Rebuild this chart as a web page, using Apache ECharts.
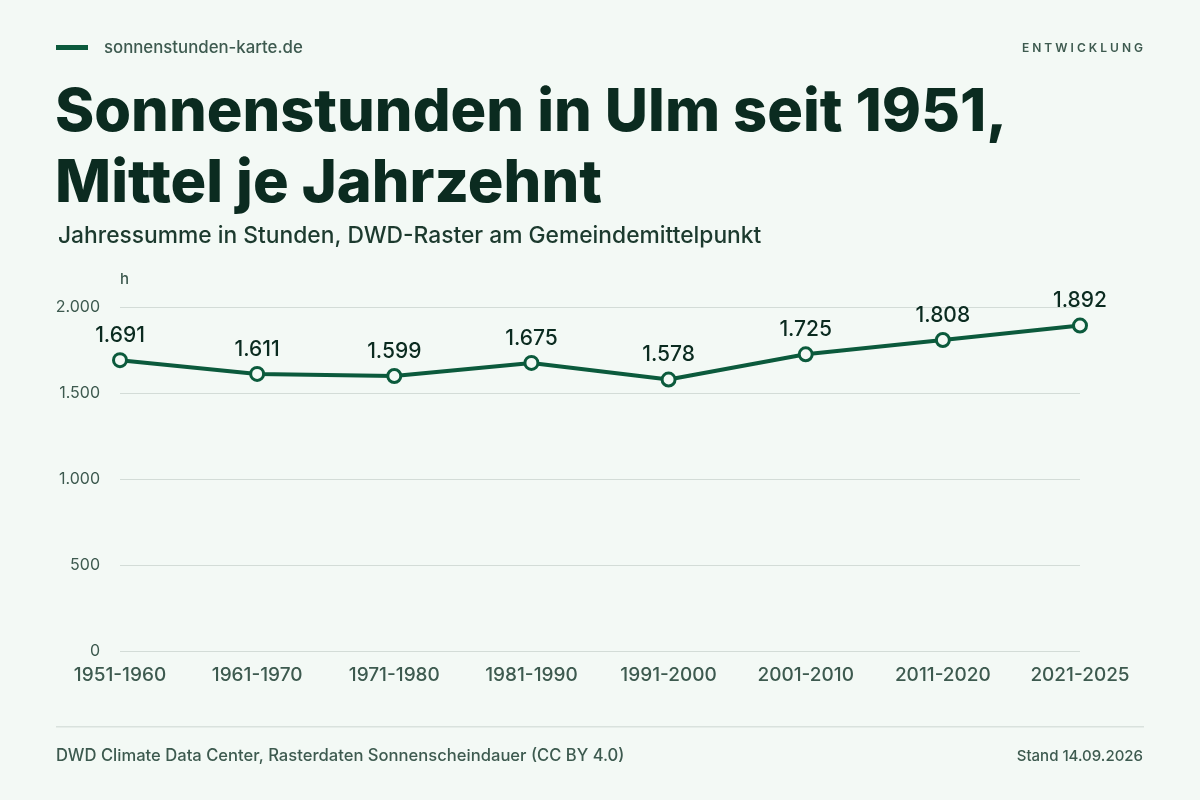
<!DOCTYPE html>
<html><head><meta charset="utf-8">
<script src="https://cdn.jsdelivr.net/npm/echarts@6/dist/echarts.min.js"></script>
<style>html,body{margin:0;padding:0;background:#f3f9f5;}#c{width:1200px;height:800px;}</style>
</head><body><div id="c"></div>
<script>
const categories = ['1951-1960','1961-1970','1971-1980','1981-1990','1991-2000','2001-2010','2011-2020','2021-2025'];
const sunHours = [1691,1611,1599,1675,1578,1725,1808,1892];
const yTicks = [0,500,1000,1500,2000];

const fmt = v => String(v).replace(/\B(?=(\d{3})+(?!\d))/g, '.');
const chart = echarts.init(document.getElementById('c'), null, {renderer:'canvas'});
const dark = '#0b2b20', muted = '#3d5a4f', green = '#0b5a3c';
chart.setOption({
  backgroundColor: '#f3f9f5',
  animation: false,
  textStyle: {fontFamily: 'Inter'},
  graphic: [
    {type:'rect', shape:{x:56,y:45,width:32,height:5}, style:{fill:green}},
    {type:'text', x:104, y:48, style:{text:'sonnenstunden-karte.de', font:'500 16.8px Inter', fill:muted, verticalAlign:'middle'}},
    {type:'text', x:1143, y:48, style:{text:'E N T W I C K L U N G', font:'600 12px Inter', fill:muted, align:'right', verticalAlign:'middle'}},
    {type:'text', x:55, y:78, style:{text:'Sonnenstunden in Ulm seit 1951,\nMittel je Jahrzehnt', font:'800 59.5px Inter', lineHeight:71, fill:dark}},
    {type:'text', x:58, y:236, style:{text:'Jahressumme in Stunden, DWD-Raster am Gemeindemittelpunkt', font:'500 22.8px Inter', fill:'#1c3a2e', verticalAlign:'middle'}},
    {type:'text', x:120, y:279, style:{text:'h', font:'500 15px Inter', fill:muted, verticalAlign:'middle'}},
    {type:'rect', shape:{x:56,y:726,width:1088,height:1.5}, style:{fill:'#d9e2dd'}},
    {type:'text', x:56, y:756, style:{text:'DWD Climate Data Center, Rasterdaten Sonnenscheindauer (CC BY 4.0)', font:'500 16.6px Inter', fill:muted, verticalAlign:'middle'}},
    {type:'text', x:1143, y:756, style:{text:'Stand 14.09.2026', font:'500 15px Inter', fill:muted, align:'right', verticalAlign:'middle'}}
  ],
  grid: {left:120, right:120, top:307, bottom:149},
  xAxis: {
    type:'category', data:categories, boundaryGap:false,
    axisLine:{show:false}, axisTick:{show:false},
    axisLabel:{color:muted, fontSize:19, fontWeight:500, margin:15, fontFamily:'Inter'}
  },
  yAxis: {
    type:'value', min:0, max:2000, interval:500,
    axisLine:{show:false}, axisTick:{show:false},
    splitLine:{lineStyle:{color:'#d3dcd7', width:1}},
    axisLabel:{color:muted, fontSize:16, margin:20, fontFamily:'Inter', formatter: v => yTicks.includes(v) ? fmt(v) : ''}
  },
  series: [{
    type:'line', data:sunHours,
    symbol:'circle', symbolSize:13,
    lineStyle:{color:green, width:4},
    itemStyle:{color:'#f3f9f5', borderColor:green, borderWidth:3},
    label:{show:true, position:'top', distance:6, color:dark, fontSize:21, fontWeight:500, fontFamily:'Inter', formatter: p => fmt(p.value)}
  }]
});
</script></body></html>
